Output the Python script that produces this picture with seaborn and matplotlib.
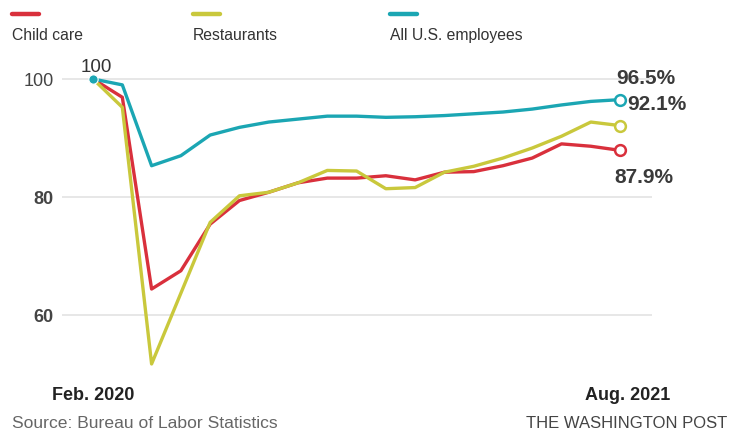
import seaborn as sns
import pandas as pd
import matplotlib.pyplot as plt
from matplotlib.lines import Line2D

# monthly index, Feb 2020 = 100
months = pd.date_range("2020-02-01", "2021-08-01", freq="MS")
child_care = [100, 96.9, 64.4, 67.5, 75.4, 79.4, 80.8, 82.4, 83.2, 83.2, 83.6,
              82.9, 84.2, 84.3, 85.3, 86.6, 89.0, 88.6, 87.9]
restaurants = [100, 95.2, 51.7, 63.7, 75.7, 80.2, 80.8, 82.4, 84.5, 84.4, 81.4,
               81.6, 84.2, 85.2, 86.6, 88.3, 90.3, 92.7, 92.1]
all_employees = [100, 99.0, 85.3, 87.0, 90.5, 91.8, 92.7, 93.2, 93.7, 93.7, 93.5,
                 93.6, 93.8, 94.1, 94.4, 94.9, 95.6, 96.2, 96.5]
series_names = ["Child care", "Restaurants", "All U.S. employees"]
colors = ["#d9303c", "#c9c83c", "#1ba6b3"]
y_ticks = [60, 80, 100]

df = pd.DataFrame({
    "month": list(range(len(months))) * 3,
    "value": child_care + restaurants + all_employees,
    "series": [n for n in series_names for _ in months],
})

sns.set_theme(style="white")
plt.rcParams["font.family"] = ["Liberation Sans Narrow", "Liberation Sans", "DejaVu Sans"]

fig = plt.figure(figsize=(7.39, 4.35), dpi=100)
ax = fig.add_axes([0.0839, 0.1244, 0.7984, 0.7392])

for yv in y_ticks:
    ax.axhline(yv, color="#e3e3e3", lw=1.2, zorder=0)

sns.lineplot(data=df, x="month", y="value", hue="series", palette=dict(zip(series_names, colors)),
             hue_order=series_names, linewidth=2.4, legend=False, ax=ax, zorder=3)

ax.set_xlim(-1.06, 19.09)
ax.set_ylim(49, 103.5)
ax.set_xlabel("")
ax.set_ylabel("")
for s in ax.spines.values():
    s.set_visible(False)
ax.set_xticks([])
ax.set_yticks(y_ticks)
ax.set_yticklabels([str(v) for v in y_ticks], fontsize=13, color="#444444")
for lab in ax.get_yticklabels()[:2]:
    lab.set_fontweight("bold")
ax.tick_params(axis="y", length=0, pad=6)

# start point and end markers
last = len(months) - 1
ax.scatter([0], [all_employees[0]], s=45, color=colors[2], zorder=5, edgecolor="white", linewidth=0.8)
ax.text(0.1, all_employees[0] + 2.1, "100", ha="center", va="center", fontsize=13.5, color="#333333")
ends = [child_care[-1], restaurants[-1], all_employees[-1]]
for v, c in zip(ends, colors):
    ax.scatter([last], [v], s=60, facecolor="white", edgecolor=c, linewidth=1.8, zorder=6)

ax.text(last - 0.12, all_employees[-1] + 3.7, "%.1f%%" % all_employees[-1], ha="left", va="center",
        fontsize=15, fontweight="bold", color="#3a3a3a")
ax.text(last + 0.25, all_employees[-1] - 0.7, "%.1f%%" % restaurants[-1], ha="left", va="center",
        fontsize=15, fontweight="bold", color="#3a3a3a")
ax.text(last - 0.2, child_care[-1] - 4.5, "%.1f%%" % child_care[-1], ha="left", va="center",
        fontsize=15, fontweight="bold", color="#3a3a3a")

# legend: swatch above label
legend_x = [12, 193, 390]
for x0, name, c in zip(legend_x, series_names, colors):
    fig.add_artist(Line2D([x0 / 739, (x0 + 27) / 739], [1 - 15 / 435] * 2, color=c, lw=3.2))
    fig.text(x0 / 739, 1 - 36 / 435, name, ha="left", va="center", fontsize=11.3, color="#333333")

fig.text(52 / 739, 1 - 396 / 435, "Feb. 2020", ha="left", va="center", fontsize=13,
         fontweight="bold", color="#222222")
fig.text(670 / 739, 1 - 396 / 435, "Aug. 2021", ha="right", va="center", fontsize=13,
         fontweight="bold", color="#222222")
fig.text(12 / 739, 1 - 424 / 435, "Source: Bureau of Labor Statistics", ha="left", va="center",
         fontsize=12.6, color="#666666")
fig.text(727 / 739, 1 - 424 / 435, "THE WASHINGTON POST", ha="right", va="center",
         fontsize=12, color="#444444")

fig.savefig("out.png", dpi=100, facecolor="white")
